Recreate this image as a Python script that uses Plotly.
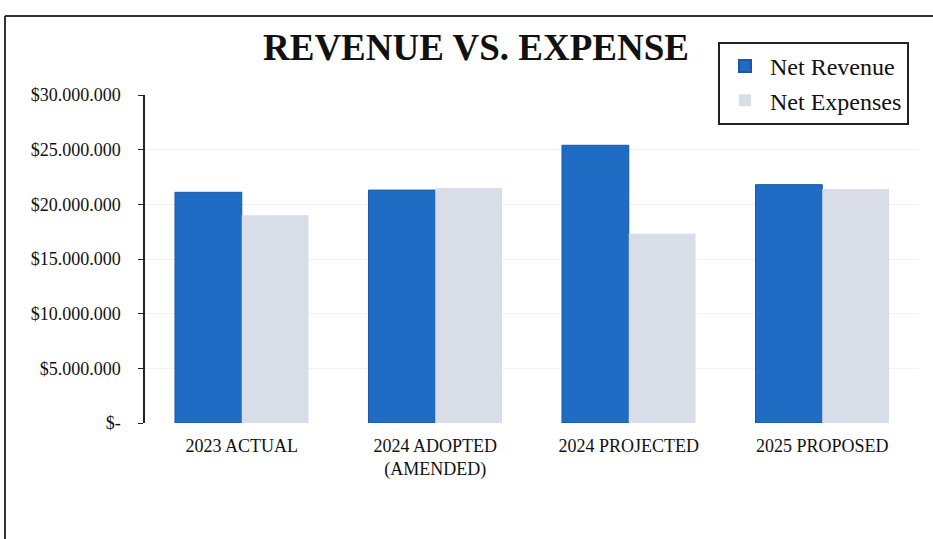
import plotly.graph_objects as go

# Budget categories and totals (USD)
categories = ["2023 ACTUAL", "2024 ADOPTED<br>(AMENDED)", "2024 PROJECTED", "2025 PROPOSED"]
net_revenue = [21_100_000, 21_300_000, 25_400_000, 21_800_000]
net_expenses = [19_000_000, 21_500_000, 17_300_000, 21_400_000]

tick_values = [0, 5_000_000, 10_000_000, 15_000_000, 20_000_000, 25_000_000, 30_000_000]
tick_labels = ["$-", "$5.000.000", "$10.000.000", "$15.000.000",
               "$20.000.000", "$25.000.000", "$30.000.000"]

W, H = 933, 539
ML, MR, MT, MB = 145, 14, 95, 116
PW, PH = W - ML - MR, H - MT - MB


def px_x(px):
    return (px - ML) / PW


def px_y(py):
    return (H - MB - py) / PH


SERIF = "Liberation Serif, Times New Roman, serif"

fig = go.Figure()
fig.add_trace(go.Bar(
    name="Net Revenue", x=categories, y=net_revenue,
    marker=dict(color="#1F6CC4", line=dict(color="#1A58A6", width=1)),
))
fig.add_trace(go.Bar(
    name="Net Expenses", x=categories, y=net_expenses,
    marker=dict(color="#D8DDE7", line=dict(width=0)),
))

fig.update_layout(
    width=W, height=H,
    margin=dict(l=ML, r=MR, t=MT, b=MB, pad=0),
    paper_bgcolor="white", plot_bgcolor="white",
    barmode="group", bargap=0.31, bargroupgap=0,
    font=dict(family=SERIF, color="#111111"),
    showlegend=True,
    legend=dict(
        x=px_x(718), y=px_y(42), xanchor="left", yanchor="top",
        bordercolor="#222222", borderwidth=2, bgcolor="white",
        font=dict(family=SERIF, size=24, color="#111111"),
        itemsizing="constant", tracegroupgap=2, itemwidth=40,
    ),
    xaxis=dict(
        showline=False, showgrid=False, ticks="",
        ticklabelstandoff=10,
        tickfont=dict(family=SERIF, size=18, color="#111111"),
    ),
    yaxis=dict(
        range=[0, 30_000_000], tickvals=tick_values, ticktext=tick_labels,
        showline=True, linecolor="#222222", linewidth=1.5,
        ticks="outside", ticklen=5, tickcolor="#222222",
        ticklabelstandoff=14,
        showgrid=True, gridcolor="#F2F2F2", gridwidth=1, zeroline=False,
        tickfont=dict(family=SERIF, size=18, color="#111111"),
    ),
    annotations=[dict(
        text="<b>REVENUE VS. EXPENSE</b>", xref="paper", yref="paper",
        x=px_x(476), y=px_y(48), xanchor="center", yanchor="middle",
        showarrow=False, font=dict(family=SERIF, size=37, color="#111111"),
    )],
    shapes=[
        # outer frame (left and top edges visible)
        dict(type="line", xref="paper", yref="paper",
             x0=px_x(5), x1=px_x(5), y0=px_y(16), y1=px_y(545),
             line=dict(color="#333333", width=2)),
        dict(type="line", xref="paper", yref="paper",
             x0=px_x(5), x1=px_x(945), y0=px_y(16), y1=px_y(16),
             line=dict(color="#333333", width=2)),
    ],
)

fig.write_html("out.html")
